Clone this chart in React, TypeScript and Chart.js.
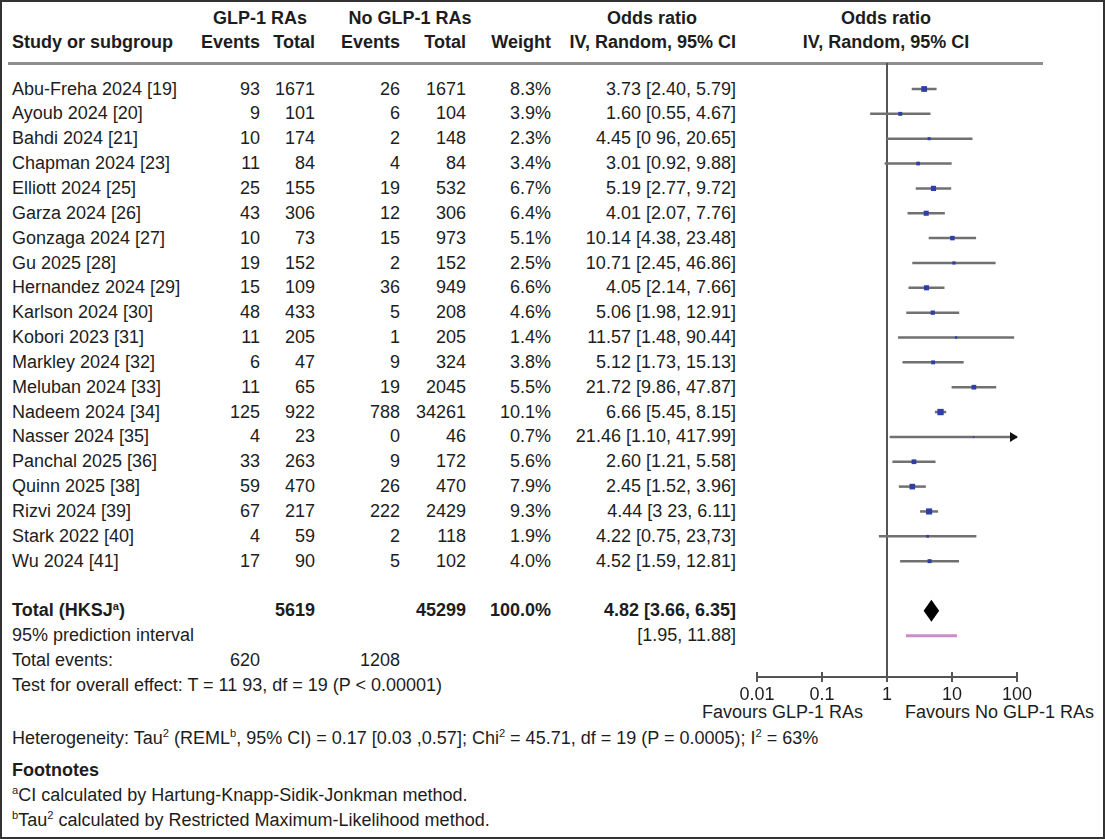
import React, { useEffect, useRef } from "react";
import { Chart, registerables } from "chart.js";

Chart.register(...registerables);

// ---- Study data ----
const studies = [
  "Abu-Freha 2024 [19]", "Ayoub 2024 [20]", "Bahdi 2024 [21]", "Chapman 2024 [23]",
  "Elliott 2024 [25]", "Garza 2024 [26]", "Gonzaga 2024 [27]", "Gu 2025 [28]",
  "Hernandez 2024 [29]", "Karlson 2024 [30]", "Kobori 2023 [31]", "Markley 2024 [32]",
  "Meluban 2024 [33]", "Nadeem 2024 [34]", "Nasser 2024 [35]", "Panchal 2025 [36]",
  "Quinn 2025 [38]", "Rizvi 2024 [39]", "Stark 2022 [40]", "Wu 2024 [41]",
];
const glpEvents = [93, 9, 10, 11, 25, 43, 10, 19, 15, 48, 11, 6, 11, 125, 4, 33, 59, 67, 4, 17];
const glpTotal = [1671, 101, 174, 84, 155, 306, 73, 152, 109, 433, 205, 47, 65, 922, 23, 263, 470, 217, 59, 90];
const noGlpEvents = [26, 6, 2, 4, 19, 12, 15, 2, 36, 5, 1, 9, 19, 788, 0, 9, 26, 222, 2, 5];
const noGlpTotal = [1671, 104, 148, 84, 532, 306, 973, 152, 949, 208, 205, 324, 2045, 34261, 46, 172, 470, 2429, 118, 102];
const weights = [8.3, 3.9, 2.3, 3.4, 6.7, 6.4, 5.1, 2.5, 6.6, 4.6, 1.4, 3.8, 5.5, 10.1, 0.7, 5.6, 7.9, 9.3, 1.9, 4.0];
const oddsRatio = [3.73, 1.6, 4.45, 3.01, 5.19, 4.01, 10.14, 10.71, 4.05, 5.06, 11.57, 5.12, 21.72, 6.66, 21.46, 2.6, 2.45, 4.44, 4.22, 4.52];
const ciLower = [2.4, 0.55, 0.96, 0.92, 2.77, 2.07, 4.38, 2.45, 2.14, 1.98, 1.48, 1.73, 9.86, 5.45, 1.1, 1.21, 1.52, 3.23, 0.75, 1.59];
const ciUpper = [5.79, 4.67, 20.65, 9.88, 9.72, 7.76, 23.48, 46.86, 7.66, 12.91, 90.44, 15.13, 47.87, 8.15, 417.99, 5.58, 3.96, 6.11, 23.73, 12.81];
const ciLabels = [
  "3.73 [2.40, 5.79]", "1.60 [0.55, 4.67]", "4.45 [0 96, 20.65]", "3.01 [0.92, 9.88]",
  "5.19 [2.77, 9.72]", "4.01 [2.07, 7.76]", "10.14 [4.38, 23.48]", "10.71 [2.45, 46.86]",
  "4.05 [2.14, 7.66]", "5.06 [1.98, 12.91]", "11.57 [1.48, 90.44]", "5.12 [1.73, 15.13]",
  "21.72 [9.86, 47.87]", "6.66 [5.45, 8.15]", "21.46 [1.10, 417.99]", "2.60 [1.21, 5.58]",
  "2.45 [1.52, 3.96]", "4.44 [3 23, 6.11]", "4.22 [0.75, 23,73]", "4.52 [1.59, 12.81]",
];

// ---- Pooled results ----
const pooledOR = 4.82;
const pooledLower = 3.66;
const pooledUpper = 6.35;
const pooledLabel = "4.82 [3.66, 6.35]";
const predictionLower = 1.95;
const predictionUpper = 11.88;
const predictionLabel = "[1.95, 11.88]";
const totalGlp = 5619;
const totalNoGlp = 45299;
const totalWeight = "100.0%";
const eventsGlp = 620;
const eventsNoGlp = 1208;

// ---- Axis ----
const xTicks = [0.01, 0.1, 1, 10, 100];
const xTickLabels = ["0.01", "0.1", "1", "10", "100"];
const X_MIN = 0.01;
const X_MAX = 100;

// ---- Layout ----
const FONT = '"Liberation Sans", Arial, Helvetica, sans-serif';
const FS = 18;
const TEXT = "#1d1d1d";
const FIRST_ROW_Y = 89;
const ROW_H = 24.85;
const PLOT_LEFT = 757;
const PLOT_RIGHT = 1017;
const PLOT_TOP = 63;
const AXIS_Y = 677;
const CANVAS_LEFT = 700;
const CANVAS_TOP = 50;
const CANVAS_W = 380;
const CANVAS_H = 680;
const TOTAL_ROW = 21;
const PI_ROW = 22;
const EVENTS_ROW = 23;
const TEST_ROW = 24;

const rowY = (r: number) => FIRST_ROW_Y + r * ROW_H;
const Y_MIN = (PLOT_TOP - FIRST_ROW_Y) / ROW_H;
const Y_MAX = (AXIS_Y - FIRST_ROW_Y) / ROW_H;

const COL_GLP_EV = 260;
const COL_GLP_TOT = 315;
const COL_NO_EV = 400;
const COL_NO_TOT = 466;
const COL_WEIGHT = 551;
const COL_OR = 736;
const COL_PLOT_CENTER = 886;

type CellProps = {
  x: number;
  y: number;
  align?: "left" | "right" | "center";
  bold?: boolean;
  children: React.ReactNode;
};

const Cell = ({ x, y, align = "left", bold, children }: CellProps) => {
  const W = 600;
  const left = align === "left" ? x : align === "right" ? x - W : x - W / 2;
  return (
    <div
      style={{
        position: "absolute",
        left,
        top: y - ROW_H / 2,
        width: W,
        height: ROW_H,
        lineHeight: `${ROW_H}px`,
        textAlign: align,
        whiteSpace: "nowrap",
        fontWeight: bold ? 700 : 400,
      }}
    >
      {children}
    </div>
  );
};

const Sup = ({ children }: { children: React.ReactNode }) => (
  <span style={{ fontSize: "0.62em", position: "relative", top: "-0.55em", verticalAlign: "baseline" }}>{children}</span>
);

// Ticks that cross the axis line, summary diamond and clipped-CI arrows
const forestPlugin = {
  id: "forestExtras",
  afterDatasetsDraw(chart: any) {
    const { ctx, scales } = chart;
    const xs = scales.x;
    const ys = scales.y;
    ctx.save();
    // summary diamond
    const cy = ys.getPixelForValue(TOTAL_ROW);
    ctx.beginPath();
    ctx.moveTo(xs.getPixelForValue(pooledLower), cy);
    ctx.lineTo(xs.getPixelForValue(pooledOR), cy - 11);
    ctx.lineTo(xs.getPixelForValue(pooledUpper), cy);
    ctx.lineTo(xs.getPixelForValue(pooledOR), cy + 11);
    ctx.closePath();
    ctx.fillStyle = "#000";
    ctx.fill();
    // arrows for intervals running past the axis
    ciUpper.forEach((hi, i) => {
      if (hi > X_MAX) {
        const tip = xs.getPixelForValue(X_MAX) + 1;
        const py = ys.getPixelForValue(i);
        ctx.beginPath();
        ctx.moveTo(tip, py);
        ctx.lineTo(tip - 8, py - 5);
        ctx.lineTo(tip - 8, py + 5);
        ctx.closePath();
        ctx.fillStyle = "#111";
        ctx.fill();
      }
    });
    ctx.restore();
  },
  afterDraw(chart: any) {
    const { ctx, scales } = chart;
    const xs = scales.x;
    const base = chart.chartArea.bottom;
    ctx.save();
    ctx.strokeStyle = "#555";
    ctx.lineWidth = 2;
    xTicks.forEach((v) => {
      const px = Math.round(xs.getPixelForValue(v));
      ctx.beginPath();
      ctx.moveTo(px, base - 5);
      ctx.lineTo(px, base + 5);
      ctx.stroke();
    });
    ctx.restore();
  },
};

const ForestChart = () => {
  const ref = useRef<HTMLCanvasElement | null>(null);
  useEffect(() => {
    if (!ref.current) return;
    const ciSets = studies.map((_, i) => ({
      type: "line" as const,
      data: [
        { x: ciLower[i], y: i },
        { x: ciUpper[i], y: i },
      ],
      borderColor: "#707070",
      borderWidth: 2.5,
      pointRadius: 0,
      showLine: true,
      order: 2,
    }));
    const chart = new Chart(ref.current, {
      type: "scatter",
      data: {
        datasets: [
          {
            data: oddsRatio.map((v, i) => ({ x: v, y: i })),
            pointStyle: "rect",
            pointRadius: weights.map((w) => (2.0 * Math.sqrt(w)) / Math.SQRT2),
            backgroundColor: "#2f3fa8",
            borderWidth: 0,
            order: 0,
          },
          {
            type: "line" as const,
            data: [
              { x: predictionLower, y: PI_ROW },
              { x: predictionUpper, y: PI_ROW },
            ],
            borderColor: "#c98cc9",
            borderWidth: 3,
            pointRadius: 0,
            showLine: true,
            order: 1,
          },
          ...ciSets,
        ] as any,
      },
      options: {
        animation: false,
        responsive: false,
        maintainAspectRatio: false,
        events: [],
        layout: {
          autoPadding: false,
          padding: {
            left: PLOT_LEFT - CANVAS_LEFT,
            right: CANVAS_LEFT + CANVAS_W - PLOT_RIGHT,
            top: PLOT_TOP - CANVAS_TOP,
            bottom: 0,
          },
        },
        plugins: { legend: { display: false }, tooltip: { enabled: false } },
        scales: {
          x: {
            type: "logarithmic",
            position: "bottom",
            min: X_MIN,
            max: X_MAX,
            afterBuildTicks: (s: any) => {
              s.ticks = xTicks.map((v) => ({ value: v }));
            },
            afterFit: (s: any) => {
              s.height = CANVAS_TOP + CANVAS_H - AXIS_Y;
            },
            grid: {
              display: true,
              drawOnChartArea: true,
              drawTicks: false,
              lineWidth: 2,
              color: (c: any) => (c.tick && c.tick.value === 1 ? "#555" : "rgba(0,0,0,0)"),
            },
            border: { display: true, color: "#555", width: 2 },
            ticks: {
              padding: 7,
              color: TEXT,
              autoSkip: false,
              maxRotation: 0,
              font: { family: FONT, size: FS },
              callback: (v: any) => {
                const k = xTicks.findIndex((t) => Math.abs(t - Number(v)) < 1e-9);
                return k >= 0 ? xTickLabels[k] : "";
              },
            },
          },
          y: {
            type: "linear",
            display: false,
            reverse: true,
            min: Y_MIN,
            max: Y_MAX,
          },
        },
      } as any,
      plugins: [forestPlugin],
    });
    return () => chart.destroy();
  }, []);
  return (
    <canvas
      ref={ref}
      width={CANVAS_W}
      height={CANVAS_H}
      style={{ position: "absolute", left: CANVAS_LEFT, top: CANVAS_TOP, width: CANVAS_W, height: CANVAS_H }}
    />
  );
};

export default function App() {
  return (
    <div
      style={{
        position: "absolute",
        left: 0,
        top: 0,
        width: 1105,
        height: 839,
        background: "#fff",
        fontFamily: FONT,
        fontSize: FS,
        color: TEXT,
        overflow: "hidden",
      }}
    >
      {/* header */}
      <Cell x={260} y={18} align="center" bold>GLP-1 RAs</Cell>
      <Cell x={410} y={18} align="center" bold>No GLP-1 RAs</Cell>
      <Cell x={652} y={18} align="center" bold>Odds ratio</Cell>
      <Cell x={COL_PLOT_CENTER} y={18} align="center" bold>Odds ratio</Cell>
      <Cell x={12} y={42} bold>Study or subgroup</Cell>
      <Cell x={COL_GLP_EV} y={42} align="right" bold>Events</Cell>
      <Cell x={COL_GLP_TOT} y={42} align="right" bold>Total</Cell>
      <Cell x={COL_NO_EV} y={42} align="right" bold>Events</Cell>
      <Cell x={COL_NO_TOT} y={42} align="right" bold>Total</Cell>
      <Cell x={COL_WEIGHT} y={42} align="right" bold>Weight</Cell>
      <Cell x={COL_OR} y={42} align="right" bold>IV, Random, 95% CI</Cell>
      <Cell x={COL_PLOT_CENTER} y={42} align="center" bold>IV, Random, 95% CI</Cell>
      <div style={{ position: "absolute", left: 8, top: 62, width: 1035, height: 3, background: "#8e8e8e" }} />

      {/* studies */}
      {studies.map((s, i) => (
        <React.Fragment key={s}>
          <Cell x={12} y={rowY(i)}>{s}</Cell>
          <Cell x={COL_GLP_EV} y={rowY(i)} align="right">{glpEvents[i]}</Cell>
          <Cell x={COL_GLP_TOT} y={rowY(i)} align="right">{glpTotal[i]}</Cell>
          <Cell x={COL_NO_EV} y={rowY(i)} align="right">{noGlpEvents[i]}</Cell>
          <Cell x={COL_NO_TOT} y={rowY(i)} align="right">{noGlpTotal[i]}</Cell>
          <Cell x={COL_WEIGHT} y={rowY(i)} align="right">{weights[i].toFixed(1)}%</Cell>
          <Cell x={COL_OR} y={rowY(i)} align="right">{ciLabels[i]}</Cell>
        </React.Fragment>
      ))}

      {/* totals */}
      <Cell x={12} y={rowY(TOTAL_ROW)} bold>Total (HKSJ<Sup>a</Sup>)</Cell>
      <Cell x={COL_GLP_TOT} y={rowY(TOTAL_ROW)} align="right" bold>{totalGlp}</Cell>
      <Cell x={COL_NO_TOT} y={rowY(TOTAL_ROW)} align="right" bold>{totalNoGlp}</Cell>
      <Cell x={COL_WEIGHT} y={rowY(TOTAL_ROW)} align="right" bold>{totalWeight}</Cell>
      <Cell x={COL_OR} y={rowY(TOTAL_ROW)} align="right" bold>{pooledLabel}</Cell>
      <Cell x={12} y={rowY(PI_ROW)}>95% prediction interval</Cell>
      <Cell x={COL_OR} y={rowY(PI_ROW)} align="right">{predictionLabel}</Cell>
      <Cell x={12} y={rowY(EVENTS_ROW)}>Total events:</Cell>
      <Cell x={COL_GLP_EV} y={rowY(EVENTS_ROW)} align="right">{eventsGlp}</Cell>
      <Cell x={COL_NO_EV} y={rowY(EVENTS_ROW)} align="right">{eventsNoGlp}</Cell>
      <Cell x={12} y={rowY(TEST_ROW)}>Test for overall effect: T = 11 93, df = 19 (P &lt; 0.00001)</Cell>

      {/* axis captions */}
      <Cell x={863} y={712} align="right">Favours GLP-1 RAs</Cell>
      <Cell x={905} y={712}>Favours No GLP-1 RAs</Cell>

      {/* heterogeneity and footnotes */}
      <Cell x={12} y={738}>
        Heterogeneity: Tau<Sup>2</Sup> (REML<Sup>b</Sup>, 95% CI) = 0.17 [0.03 ,0.57]; Chi<Sup>2</Sup> = 45.71, df = 19 (P = 0.0005); I<Sup>2</Sup> = 63%
      </Cell>
      <Cell x={12} y={770} bold>Footnotes</Cell>
      <Cell x={12} y={795}><Sup>a</Sup>CI calculated by Hartung-Knapp-Sidik-Jonkman method.</Cell>
      <Cell x={12} y={820}><Sup>b</Sup>Tau<Sup>2</Sup> calculated by Restricted Maximum-Likelihood method.</Cell>

      <ForestChart />

      {/* frame */}
      <div
        style={{
          position: "absolute",
          left: 0,
          top: 0,
          width: 1105,
          height: 839,
          boxSizing: "border-box",
          border: "2px solid #333",
          pointerEvents: "none",
        }}
      />
    </div>
  );
}
